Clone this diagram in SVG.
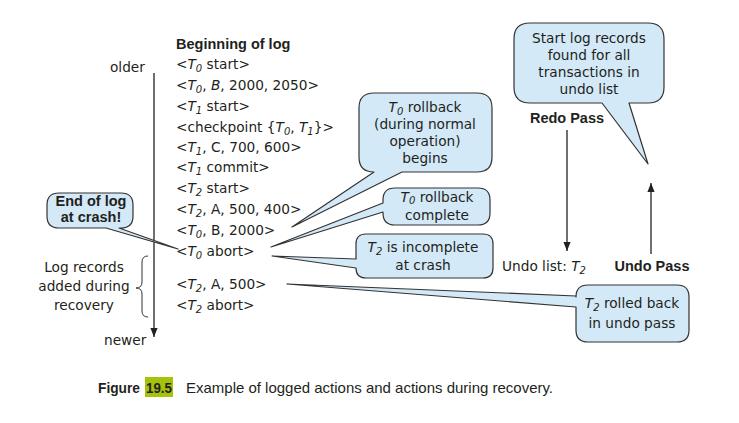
<svg xmlns="http://www.w3.org/2000/svg" width="739" height="423" viewBox="0 0 739 423">
<style>
text{font-family:"DejaVu Sans",sans-serif;font-size:13.7px;fill:#231f20}
.b{font-family:"Liberation Sans",Arial,sans-serif;font-weight:bold;font-size:14.5px}
.i{font-style:italic}
.sub{font-size:10px;font-style:italic}
.c{text-anchor:middle}
.callout{fill:#d3e9f7;stroke:#333;stroke-width:1.2;stroke-linejoin:round}
.ln{stroke:#222;stroke-width:1.3;fill:none}
.cap{font-family:"Liberation Sans",Arial,sans-serif;font-size:15px}
</style>
<defs>
<marker id="ah" viewBox="0 0 10 10" refX="10" refY="5" markerWidth="9" markerHeight="9" markerUnits="userSpaceOnUse" orient="auto">
<path d="M0,1 L10,5 L0,9 Z" fill="#222"/>
</marker>
</defs>
<rect width="739" height="423" fill="#fff"/>

<g id="timeline">
<line class="ln" x1="154" y1="73" x2="154" y2="337" stroke="#555" marker-end="url(#ah)"/>
<text x="110" y="72">older</text>
<text x="104" y="345">newer</text>
</g>

<g id="log">
<text class="b" x="176" y="49">Beginning of log</text>
<text x="176" y="69">&lt;<tspan class="i">T</tspan><tspan class="sub" dy="3">0</tspan><tspan dy="-3"> start&gt;</tspan></text>
<text x="176" y="90">&lt;<tspan class="i">T</tspan><tspan class="sub" dy="3">0</tspan><tspan dy="-3">, </tspan><tspan class="i">B</tspan>, 2000, 2050&gt;</text>
<text x="176" y="111">&lt;<tspan class="i">T</tspan><tspan class="sub" dy="3">1</tspan><tspan dy="-3"> start&gt;</tspan></text>
<text x="176" y="132">&lt;checkpoint {<tspan class="i">T</tspan><tspan class="sub" dy="3">0</tspan><tspan dy="-3">, </tspan><tspan class="i">T</tspan><tspan class="sub" dy="3">1</tspan><tspan dy="-3">}&gt;</tspan></text>
<text x="176" y="152">&lt;<tspan class="i">T</tspan><tspan class="sub" dy="3">1</tspan><tspan dy="-3">, C, 700, 600&gt;</tspan></text>
<text x="176" y="172">&lt;<tspan class="i">T</tspan><tspan class="sub" dy="3">1</tspan><tspan dy="-3"> commit&gt;</tspan></text>
<text x="176" y="193">&lt;<tspan class="i">T</tspan><tspan class="sub" dy="3">2</tspan><tspan dy="-3"> start&gt;</tspan></text>
<text x="176" y="214">&lt;<tspan class="i">T</tspan><tspan class="sub" dy="3">2</tspan><tspan dy="-3">, A, 500, 400&gt;</tspan></text>
<text x="176" y="235">&lt;<tspan class="i">T</tspan><tspan class="sub" dy="3">0</tspan><tspan dy="-3">, B, 2000&gt;</tspan></text>
<text x="176" y="256">&lt;<tspan class="i">T</tspan><tspan class="sub" dy="3">0</tspan><tspan dy="-3"> abort&gt;</tspan></text>
<text x="176" y="289">&lt;<tspan class="i">T</tspan><tspan class="sub" dy="3">2</tspan><tspan dy="-3">, A, 500&gt;</tspan></text>
<text x="176" y="310">&lt;<tspan class="i">T</tspan><tspan class="sub" dy="3">2</tspan><tspan dy="-3"> abort&gt;</tspan></text>
</g>

<g id="recovery-records">
<path d="M148,256 Q142,256 142,262 V282 Q142,288 136,288 Q142,288 142,294 V311 Q142,317 148,317" fill="none" stroke="#333" stroke-width="1"/>
<text class="c" x="84" y="272">Log records</text>
<text class="c" x="84" y="291">added during</text>
<text class="c" x="84" y="310">recovery</text>
</g>

<g id="end-of-log">
<path class="callout" d="M59,193 H121 Q133,193 133,205 V216 Q133,228 121,228 H119 L178,249 L106,228 H59 Q47,228 47,216 V205 Q47,193 59,193 Z"/>
<text class="b c" x="91" y="206">End of log</text>
<text class="b c" x="91" y="222">at crash!</text>
</g>

<g id="rollback-begins">
<path class="callout" d="M374,93 H477 Q492,93 492,108 V157 Q492,172 477,172 H402 L292,227 L374,172 Q359,172 359,157 V108 Q359,93 374,93 Z"/>
<text class="c" x="425" y="112"><tspan class="i">T</tspan><tspan class="sub" dy="3">0</tspan><tspan dy="-3"> rollback</tspan></text>
<text class="c" x="425" y="129">(during normal</text>
<text class="c" x="425" y="146">operation)</text>
<text class="c" x="425" y="163">begins</text>
</g>

<g id="rollback-complete">
<path class="callout" d="M395,188 H478 Q490,188 490,200 V213 Q490,225 478,225 H395 Q383,225 383,213 V212 L271,247 L383,203 V200 Q383,188 395,188 Z"/>
<text class="c" x="437" y="202"><tspan class="i">T</tspan><tspan class="sub" dy="2">0</tspan><tspan dy="-2"> rollback</tspan></text>
<text class="c" x="437" y="219.5">complete</text>
</g>

<g id="t2-incomplete">
<path class="callout" d="M366,234 H483 Q493,234 493,244 V268 Q493,278 483,278 H366 Q356,278 356,268 L272,256 L356,259 V244 Q356,234 366,234 Z"/>
<text class="c" x="423" y="252"><tspan class="i">T</tspan><tspan class="sub" dy="3">2</tspan><tspan dy="-3"> is incomplete</tspan></text>
<text class="c" x="423" y="270">at crash</text>
</g>

<g id="t2-rolled-back">
<path class="callout" d="M588,285 H677 Q689,285 689,297 V330 Q689,342 677,342 H588 Q576,342 576,330 V307 L287,284 L576,296 V297 Q576,285 588,285 Z"/>
<text class="c" x="632" y="308"><tspan class="i">T</tspan><tspan class="sub" dy="3">2</tspan><tspan dy="-3"> rolled back</tspan></text>
<text class="c" x="632" y="328">in undo pass</text>
</g>

<g id="start-records">
<path class="callout" d="M530,23 H648 Q664,23 664,39 V87 Q664,103 648,103 H629 L648,164 L602,103 H530 Q514,103 514,87 V39 Q514,23 530,23 Z"/>
<text class="c" x="589" y="43">Start log records</text>
<text class="c" x="589" y="60">found for all</text>
<text class="c" x="589" y="77">transactions in</text>
<text class="c" x="589" y="94">undo list</text>
</g>

<g id="redo-pass">
<text class="b c" x="567" y="123">Redo Pass</text>
</g>
<g id="undo-list">
<text x="502" y="271">Undo list: <tspan class="i">T</tspan><tspan class="sub" dy="3">2</tspan></text>
</g>
<g id="undo-pass">
<text class="b c" x="652" y="271">Undo Pass</text>
</g>

<g id="connectors">
<line class="ln" x1="567" y1="130" x2="567" y2="251" marker-end="url(#ah)"/>
<line class="ln" x1="651" y1="254" x2="651" y2="183" marker-end="url(#ah)"/>
</g>

<g id="caption">
<rect x="145" y="377" width="28" height="20" fill="#a6c20a"/>
<text class="cap" x="98" y="393" font-weight="bold" textLength="42" lengthAdjust="spacingAndGlyphs">Figure</text>
<text class="cap" x="146" y="393" font-weight="bold" textLength="26" lengthAdjust="spacingAndGlyphs">19.5</text>
<text class="cap" x="186" y="393" textLength="367" lengthAdjust="spacingAndGlyphs">Example of logged actions and actions during recovery.</text>
</g>
</svg>
